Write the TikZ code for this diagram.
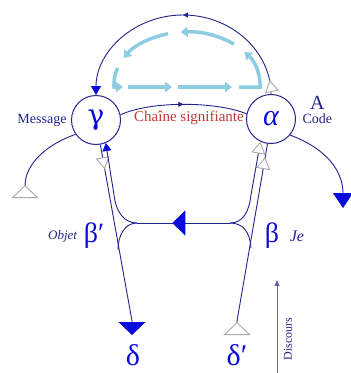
\documentclass[tikz,border=0pt]{standalone}
\usepackage{fontspec}
\setmainfont{Liberation Serif}
\newfontfamily\loopgreek{DejaVu Serif}
\usetikzlibrary{arrows.meta, positioning, calc, decorations.markings}

\definecolor{navy}{RGB}{35,35,140}
\definecolor{vivid}{RGB}{10,10,220}
\definecolor{sky}{RGB}{140,205,225}
\definecolor{chain}{RGB}{190,55,55}
\definecolor{ghost}{RGB}{170,170,170}
\definecolor{slate}{RGB}{100,100,175}

\begin{document}
\begin{tikzpicture}[x=1pt, y=-1pt,
      circ/.style={circle, draw=navy, line width=1pt, minimum size=49pt,
                   inner sep=0pt, text=vivid, font=\fontsize{30}{30}\selectfont},
      greek/.style={text=vivid, inner sep=0pt, font=\fontsize{28}{28}\selectfont},
      lbl/.style={text=navy, font=\fontsize{14}{14}\selectfont},
      wire/.style={draw=navy, line width=0.9pt},
      loop/.style={draw=sky, line width=3.5pt, -{Triangle[length=7pt,width=10pt]}},
      ghost tri/.tip={Triangle[open, fill=white, color=ghost, length=12pt, width=14pt]},
      ghost base/.tip={Triangle[open, reversed, fill=white, color=ghost, length=13pt, width=27pt]},
      big down/.tip={Triangle[color=vivid, length=13pt, width=27pt]},
      small blue/.tip={Triangle[color=vivid, length=8pt, width=9pt]},
      ghostmark/.style={postaction={decorate, decoration={markings,
                   mark=at position #1 with {\arrow{ghost tri}}}}},
      midarrow/.style={postaction={decorate, decoration={markings,
                   mark=at position #1 with {\arrow{Triangle[length=5pt,width=5pt]}}}}}
    ]
    \useasboundingbox (0,0) rectangle (351,373);

    % the two places
    \node[circ, font=\fontsize{28}{28}\selectfont\loopgreek] (gamma) at (96,120) {γ};
    \node[circ, font=\fontsize{30}{30}\selectfont\itshape] (alpha) at (271,119) {α};

    \node[lbl, left=1pt of gamma] (msg) {Message};
    \node[lbl, right=3pt of alpha] (code) {Code};
    \node[lbl, font=\fontsize{20}{20}\selectfont, inner sep=1pt, above=0pt of code] (lettera) {A};
    \node[lbl, text=chain, font=\fontsize{15}{15}\selectfont] (chain) at (189,118) {Chaîne signifiante};

    \node[greek] (betap) at (94,236) {β′};
    \node[lbl, font=\fontsize{13}{13}\selectfont\itshape, left=3pt of betap] (objet) {Objet};
    \node[greek] (beta) at (272,236) {β};
    \node[lbl, font=\fontsize{16}{16}\selectfont\itshape, right=7pt of beta] (je) {Je};

    \node[greek, font=\fontsize{30}{30}\selectfont] (delta) at (133,355) {δ};
    \node[greek, font=\fontsize{30}{30}\selectfont] (deltap) at (237,355) {δ′};
    \node[lbl, rotate=90, font=\fontsize{12}{12}\selectfont] (disc) at (288,339) {Discours};

    \coordinate (jl) at (137,223);
    \coordinate (jr) at (230,223);
    \coordinate (la) at (118,250);
    \coordinate (ra) at (251,248);
    \coordinate (dtip) at (132,335);
    \coordinate (dpbase) at (237,335);
    \coordinate (mend) at (25,198);
    \coordinate (cend) at (343,208);
    \coordinate (dbot) at (277,373);
    \coordinate (dtop) at (277,280);

    % light blue loop
    \draw[loop] (239,87) -- (260,87) -- (260,84) arc[start angle=0, end angle=-38, x radius=73, y radius=52];
    \draw[loop] (233.92,44.17) arc[start angle=-50, end angle=-95, x radius=73, y radius=52];
    \draw[loop] (168.11,33.77) arc[start angle=-105, end angle=-150, x radius=73, y radius=52];
    \draw[loop] (117.57,67.93) arc[start angle=-162, end angle=-180, x radius=73, y radius=52] -- (114,87) -- (123,87);
    \draw[loop] (128,87) -- (172,87);
    \draw[loop] (178,87) -- (232,87);

    % top arc and chain
    \draw[wire, -{Triangle[color=vivid, length=9pt, width=10pt]}, ghostmark=14pt, midarrow=0.5]
      (alpha.north) .. controls (271,52) and (232,15) .. (183,15)
      .. controls (134,15) and (96,52) .. (gamma.north);
    \draw[wire, midarrow=0.5] (gamma.12) .. controls (150,101) and (215,101) .. (alpha.168);

    % side branches
    \draw[wire, -{ghost base}] (gamma.215) .. controls (45,145) and (25,165) .. (mend);
    \draw[wire, -{Triangle[color=vivid, length=15pt, width=20pt]}]
      (alpha.320) .. controls (325,148) and (343,170) .. (cend);

    % left pair
    \draw[wire, -{big down}, ghostmark=25pt] (gamma.280) -- ($(dtip)+(0,-14)$) -- (dtip);
    \draw[wire, -{small blue}] (jl) .. controls (124,223) and (116,212) .. (114,195) -- (gamma.293);
    \draw[wire] (jl) .. controls (125,223) and (118,235) .. (la);

    % right pair
    \draw[wire, {ghost base}-, ghostmark=0.93] (dpbase) -- ($(dpbase)+(0,-14)$) -- (alpha.262);
    \draw[wire, -{ghost tri}] (jr) .. controls (243,223) and (249,212) .. (251,195) -- (alpha.245);
    \draw[wire] (jr) .. controls (243,223) and (250,232) .. (ra);

    % crossing
    \draw[wire, postaction={decorate, decoration={markings,
          mark=at position 0.62 with {\arrow{Triangle[color=vivid, length=13pt, width=25pt]}}}}]
      (jr) -- (jl);

    \draw[slate, line width=0.8pt, -{Triangle[length=6pt,width=5pt]}] (dbot) -- (dtop);

  \end{tikzpicture}
\end{document}
